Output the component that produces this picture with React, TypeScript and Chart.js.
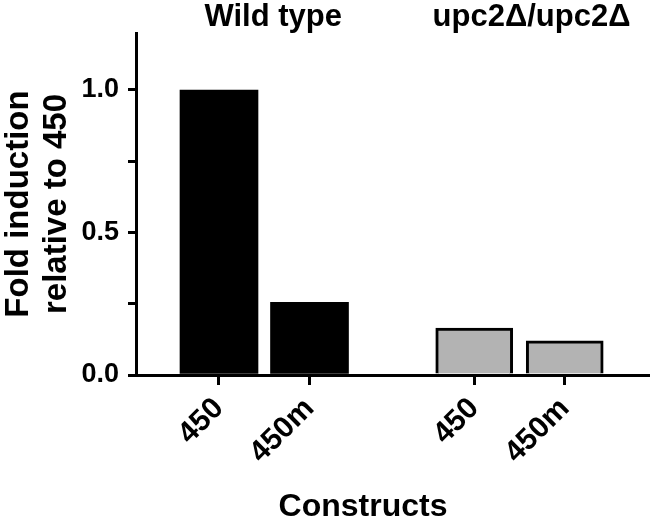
import React, { useEffect, useRef } from 'react';
import { Chart, registerables } from 'chart.js';

Chart.register(...registerables);

const constructLabels = ['450', '450m', '450', '450m'];
const groupNames = ['Wild type', 'upc2Δ/upc2Δ'];
const wildTypeValues = [1.0, 0.255];
const mutantValues = [0.165, 0.12];
const slotPositions = [0, 1, 2.82, 3.82];
const yLabelledTicks = [0, 0.5, 1.0];

const FONT = "'Liberation Sans', Arial, Helvetica, sans-serif";

const annotationPlugin = {
  id: 'groupAnnotations',
  afterDraw(chart: any) {
    const { ctx } = chart;
    const xs = chart.scales.x;
    ctx.save();
    ctx.fillStyle = '#000';
    ctx.font = `bold 31px ${FONT}`;
    ctx.textAlign = 'center';
    ctx.textBaseline = 'alphabetic';
    const g0 = (xs.getPixelForValue(slotPositions[0]) + xs.getPixelForValue(slotPositions[1])) / 2 + 9;
    const g1 = (xs.getPixelForValue(slotPositions[2]) + xs.getPixelForValue(slotPositions[3])) / 2 + 12;
    ctx.fillText(groupNames[0], g0, 26);
    ctx.fillText(groupNames[1], g1, 26);
    ctx.font = `bold 32px ${FONT}`;
    ctx.fillText('Constructs', (xs.left + xs.right) / 2 - 29, 516);
    ctx.restore();
  },
};

export default function App() {
  const ref = useRef<HTMLCanvasElement | null>(null);

  useEffect(() => {
    document.body.style.margin = '0';
    const canvas = ref.current;
    if (!canvas) return;
    const chart = new Chart(canvas, {
      type: 'bar',
      data: {
        datasets: [
          {
            label: groupNames[0],
            data: wildTypeValues.map((v, i) => ({ x: slotPositions[i], y: v })),
            backgroundColor: '#000',
            borderWidth: 0,
            barThickness: 78,
            grouped: false,
          } as any,
          {
            label: groupNames[1],
            data: mutantValues.map((v, i) => ({ x: slotPositions[i + 2], y: v })),
            backgroundColor: '#b3b3b3',
            borderColor: '#000',
            borderWidth: 3,
            barThickness: 77,
            grouped: false,
          } as any,
        ],
      },
      options: {
        animation: false,
        responsive: true,
        maintainAspectRatio: false,
        layout: { padding: { top: 33, left: 0, right: 2, bottom: 0 } },
        plugins: {
          legend: { display: false },
          tooltip: { enabled: false },
        },
        scales: {
          x: {
            type: 'linear',
            offset: false,
            min: -0.917,
            max: 4.74,
            afterBuildTicks: (scale: any) => {
              scale.ticks = slotPositions.map((v) => ({ value: v }));
            },
            afterFit: (scale: any) => {
              scale.height = 145;
            },
            ticks: {
              autoSkip: false,
              minRotation: 45,
              maxRotation: 45,
              color: '#000',
              padding: 6,
              font: { family: FONT, size: 30, weight: 'bold' },
              callback: (_v: any, i: number) => constructLabels[i],
            },
            grid: {
              display: true,
              offset: false,
              drawOnChartArea: false,
              drawTicks: true,
              tickLength: 10,
              color: '#000',
              lineWidth: 3,
            },
            border: { display: true, color: '#000', width: 3 },
          },
          y: {
            min: 0,
            max: 1.2,
            afterBuildTicks: (scale: any) => {
              scale.ticks = scale.ticks.filter((t: any) => t.value <= 1.0001);
            },
            afterFit: (scale: any) => {
              scale.width = 136;
            },
            ticks: {
              stepSize: 0.25,
              color: '#000',
              padding: 9,
              font: { family: FONT, size: 27, weight: 'bold' },
              callback: (v: any) => {
                const n = Number(v);
                return yLabelledTicks.some((t) => Math.abs(t - n) < 1e-6) ? n.toFixed(1) : '';
              },
            },
            grid: {
              display: true,
              drawOnChartArea: false,
              drawTicks: true,
              tickLength: 8,
              color: '#000',
              lineWidth: 3,
            },
            border: { display: true, color: '#000', width: 3 },
            title: {
              display: true,
              text: ['Fold induction', 'relative to 450'],
              color: '#000',
              padding: { top: 0, bottom: 0 },
              font: { family: FONT, size: 33, weight: 'bold', lineHeight: 1.15 },
            },
          },
        },
      } as any,
      plugins: [annotationPlugin],
    });
    return () => chart.destroy();
  }, []);

  return (
    <div style={{ position: 'absolute', left: 0, top: 0, width: 650, height: 520 }}>
      <canvas ref={ref} />
    </div>
  );
}
